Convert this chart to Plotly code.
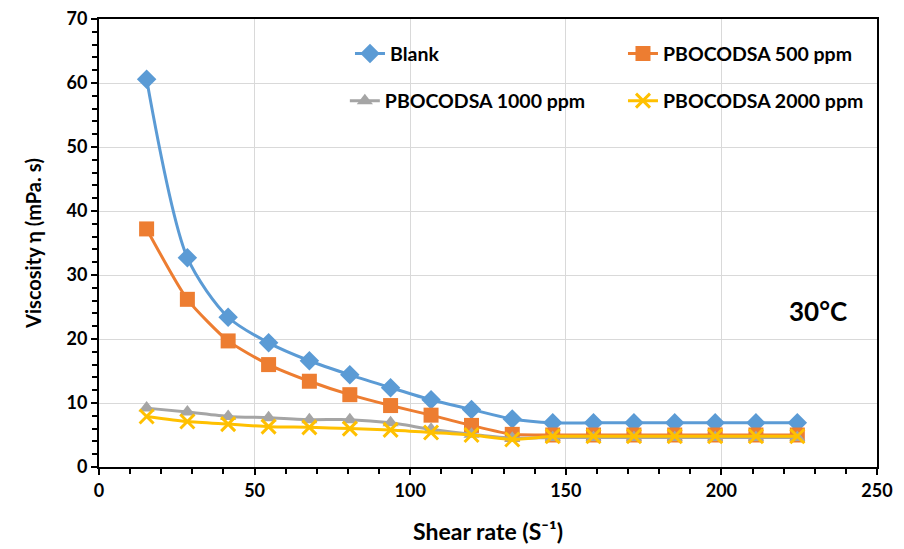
import plotly.graph_objects as go

shear_rate = [15.3, 28.4, 41.5, 54.5, 67.6, 80.6, 93.7, 106.7, 119.7, 132.8, 145.8, 158.9, 171.9, 185.0, 198.0, 211.1, 224.4]
blank = [60.6, 32.7, 23.4, 19.4, 16.6, 14.4, 12.4, 10.5, 9.0, 7.5, 6.9, 6.9, 6.9, 6.9, 6.9, 6.9, 6.9]
ppm500 = [37.2, 26.2, 19.7, 16.0, 13.4, 11.3, 9.6, 8.1, 6.5, 5.1, 5.0, 5.0, 5.0, 5.0, 5.0, 5.0, 5.0]
ppm1000 = [9.2, 8.6, 7.9, 7.7, 7.4, 7.4, 6.9, 5.9, 5.1, 4.5, 4.6, 4.6, 4.6, 4.6, 4.6, 4.6, 4.6]
ppm2000 = [7.9, 7.1, 6.7, 6.3, 6.2, 6.0, 5.8, 5.4, 5.0, 4.3, 4.8, 4.8, 4.8, 4.8, 4.8, 4.8, 4.8]

FONT = "Lato"
fig = go.Figure()
fig.add_trace(go.Scatter(x=shear_rate, y=blank, name="Blank", mode="lines+markers", legend="legend",
                         line=dict(color="#5B9BD5", width=3, shape="spline", smoothing=0.8),
                         marker=dict(symbol="diamond", size=15, color="#5B9BD5")))
fig.add_trace(go.Scatter(x=shear_rate, y=ppm500, name="PBOCODSA 500 ppm", mode="lines+markers", legend="legend2",
                         line=dict(color="#ED7D31", width=3, shape="spline", smoothing=0.6),
                         marker=dict(symbol="square", size=15, color="#ED7D31")))
fig.add_trace(go.Scatter(x=shear_rate, y=ppm1000, name="PBOCODSA 1000 ppm", mode="lines+markers", legend="legend3",
                         line=dict(color="#A5A5A5", width=3, shape="spline", smoothing=0.6),
                         marker=dict(symbol="triangle-up", size=14, color="#A5A5A5")))
fig.add_trace(go.Scatter(x=shear_rate, y=ppm2000, name="PBOCODSA 2000 ppm", mode="lines+markers", legend="legend4",
                         line=dict(color="#FFC000", width=3, shape="spline", smoothing=0.6),
                         marker=dict(symbol="x-thin", size=14, color="#FFC000",
                                     line=dict(color="#FFC000", width=3))))

fig.add_annotation(x=0.964, y=0.348, xref="paper", yref="paper", text="30°C",
                   showarrow=False, xanchor="right", yanchor="middle",
                   font=dict(family=FONT, size=26, color="black", weight="bold"))

axis_common = dict(showline=True, linecolor="black", linewidth=2, mirror=True,
                   showgrid=True, gridcolor="#D9D9D9", gridwidth=1,
                   ticks="outside", ticklen=6, tickwidth=2, tickcolor="black",
                   tickfont=dict(family=FONT, size=18, color="black", weight="bold"),
                   zeroline=False, automargin=False)

fig.update_xaxes(range=[0, 250], dtick=50,
                 minor=dict(dtick=10, ticks="outside", ticklen=5, tickwidth=2, tickcolor="black", showgrid=False),
                 title=dict(text="Shear rate (S⁻¹)", font=dict(family=FONT, size=23, color="black", weight="bold"), standoff=24),
                 **axis_common)
fig.update_yaxes(range=[0, 70], dtick=10,
                 minor=dict(dtick=2, ticks="outside", ticklen=5, tickwidth=2, tickcolor="black", showgrid=False),
                 title=dict(text="Viscosity η (mPa. s)", font=dict(family=FONT, size=20, color="black", weight="bold"), standoff=20),
                 **axis_common)

leg_common = dict(orientation="h", xanchor="left", yanchor="middle",
                  bgcolor="rgba(255,255,255,0)",
                  font=dict(family=FONT, size=19.5, color="black", weight="bold"))

fig.update_layout(width=904, height=549,
                  margin=dict(l=99, r=27, t=19, b=82),
                  plot_bgcolor="white", paper_bgcolor="white",
                  legend=dict(x=0.3226, y=0.922, **leg_common),
                  legend2=dict(x=0.6735, y=0.922, **leg_common),
                  legend3=dict(x=0.316, y=0.817, **leg_common),
                  legend4=dict(x=0.6735, y=0.817, **leg_common),
                  showlegend=True)

fig.write_html("out.html")
